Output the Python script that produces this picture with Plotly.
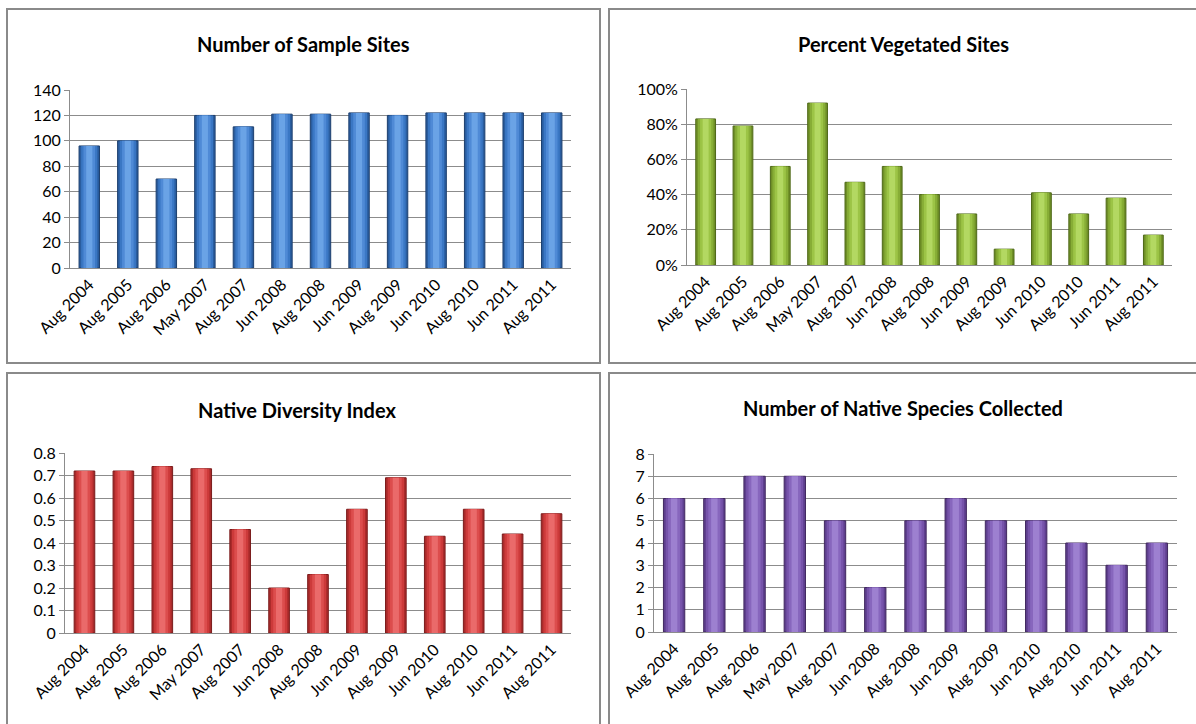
import plotly.graph_objects as go

# Survey dates shared by all four charts
dates = ["Aug 2004", "Aug 2005", "Aug 2006", "May 2007", "Aug 2007", "Jun 2008",
         "Aug 2008", "Jun 2009", "Aug 2009", "Jun 2010", "Aug 2010", "Jun 2011", "Aug 2011"]

sample_sites = [96, 100, 70, 120, 111, 121, 121, 122, 120, 122, 122, 122, 122]
pct_vegetated = [0.83, 0.79, 0.56, 0.92, 0.47, 0.56, 0.40, 0.29, 0.09, 0.41, 0.29, 0.38, 0.17]
diversity_index = [0.72, 0.72, 0.74, 0.73, 0.46, 0.20, 0.26, 0.55, 0.69, 0.43, 0.55, 0.44, 0.53]
native_species = [6, 6, 7, 7, 5, 2, 5, 6, 5, 5, 4, 3, 4]

titles = ["Number of Sample Sites", "Percent Vegetated Sites",
          "Native Diversity Index", "Number of Native Species Collected"]

W, H = 1196, 724
FONT = "Lato"
GRID = "#8c8c8c"


def px_x(v):
    return v / W


def px_y(v):
    return 1 - v / H


# (values, axis suffix, plot box in pixels [left, right, top, bottom], y range, dtick, tickformat,
#  shades from edge to centre, outline, title position)
panels = [
    (sample_sites, "", (70, 571, 90, 268), [0, 140], 20, None,
     ["#2a5d9f", "#3a77c4", "#4f8ad6", "#6aa3e6"], "#1d3f6e", (303, 44)),
    (pct_vegetated, "2", (687, 1172, 89, 265), [0, 1], 0.2, ".0%",
     ["#6f8f27", "#87ad36", "#9cc446", "#b3d862"], "#4e6818", (903, 44)),
    (diversity_index, "3", (65, 571, 453, 633), [0, 0.8], 0.1, None,
     ["#a92b2b", "#cc3a3a", "#dc4d4d", "#ea6a6a"], "#7a1b1b", (297, 410)),
    (native_species, "4", (654, 1177, 454, 632), [0, 8], 1, None,
     ["#5e3f8e", "#7653aa", "#8766bd", "#9d80d0"], "#40285f", (903, 408)),
]

fig = go.Figure()
annotations = []
layout_axes = {}

widths = [0.53, 0.42, 0.30, 0.16]

for i, (vals, sfx, box, yr, dt, tf, shades, outline, tpos) in enumerate(panels):
    xa = "x" + sfx
    ya = "y" + sfx
    # layered bars of decreasing width give each column a rounded, cylinder-like shading
    for j, (w, c) in enumerate(zip(widths, shades)):
        fig.add_trace(go.Bar(
            x=dates, y=vals, width=w, xaxis=xa, yaxis=ya,
            marker=dict(color=c,
                        line=dict(color=outline if j == 0 else c, width=1 if j == 0 else 0)),
            showlegend=False, hoverinfo="skip" if j else None,
        ))
    left, right, top, bottom = box
    layout_axes["xaxis" + sfx] = dict(
        domain=[px_x(left), px_x(right)], anchor=ya, type="category", automargin=False,
        tickangle=-45, showgrid=False, showline=True, linecolor=GRID, linewidth=1,
        ticks="", tickfont=dict(family=FONT, size=16, color="#000"),
    )
    ydict = dict(
        domain=[px_y(bottom), px_y(top)], anchor=xa, range=yr, dtick=dt, tick0=0,
        automargin=False,
        showgrid=True, gridcolor=GRID, gridwidth=1, showline=True, linecolor=GRID,
        linewidth=1, ticks="outside", ticklen=5, tickcolor=GRID, zeroline=False,
        tickfont=dict(family=FONT, size=16, color="#000"),
    )
    if tf:
        ydict["tickformat"] = tf
    layout_axes["yaxis" + sfx] = ydict
    annotations.append(dict(
        text="<b>" + titles[i] + "</b>", x=px_x(tpos[0]), y=px_y(tpos[1]),
        xref="paper", yref="paper", showarrow=False, xanchor="center", yanchor="middle",
        font=dict(family=FONT, size=20, color="#000"),
    ))

# chart frames
frames = [(7, 600, 9, 363), (609, 1205, 9, 363), (7, 600, 373, 735), (609, 1205, 373, 735)]
shapes = [dict(type="rect", xref="paper", yref="paper",
               x0=px_x(a), x1=px_x(b), y0=px_y(d), y1=px_y(c),
               line=dict(color="#8a8a8a", width=2), fillcolor="rgba(0,0,0,0)")
          for a, b, c, d in frames]

fig.update_layout(
    width=W, height=H, margin=dict(l=0, r=0, t=0, b=0, autoexpand=False),
    paper_bgcolor="white", plot_bgcolor="white", barmode="overlay",
    annotations=annotations, shapes=shapes, showlegend=False,
    **layout_axes,
)

fig.write_html("out.html")
